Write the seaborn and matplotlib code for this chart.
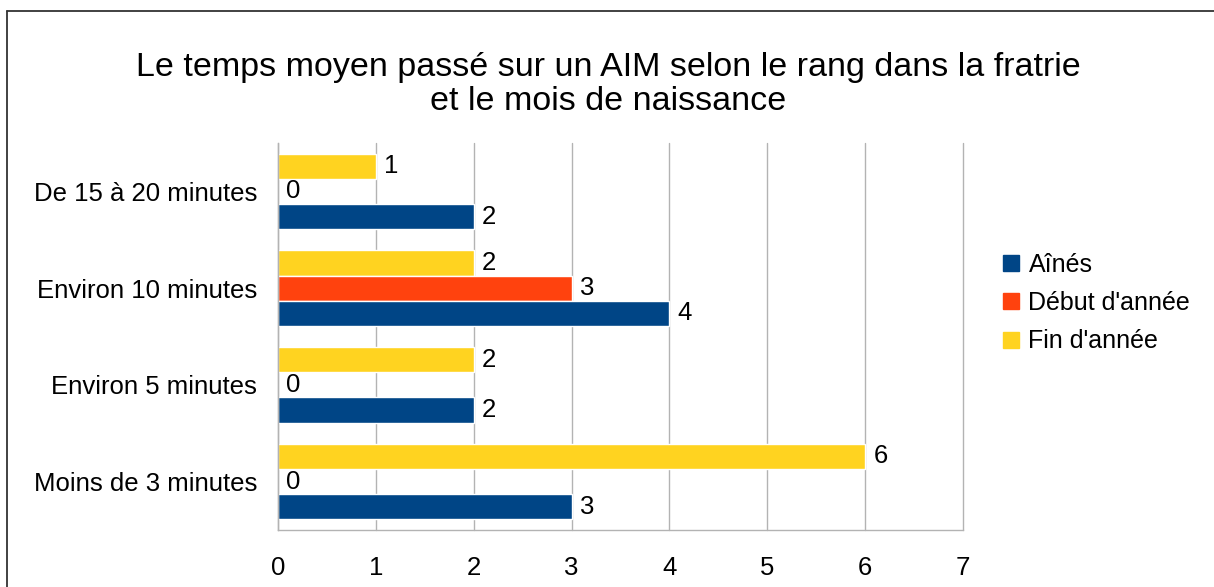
import matplotlib
matplotlib.use("Agg")
import matplotlib.pyplot as plt
from matplotlib.lines import Line2D
import pandas as pd
import seaborn as sns

# données
categories = ["De 15 à 20 minutes", "Environ 10 minutes", "Environ 5 minutes", "Moins de 3 minutes"]
series = ["Aînés", "Début d'année", "Fin d'année"]
aines = [2, 4, 2, 3]
debut = [0, 3, 0, 0]
fin = [1, 2, 2, 6]
couleurs = {"Aînés": "#004586", "Début d'année": "#ff420e", "Fin d'année": "#ffd320"}

df = pd.DataFrame({
    "cat": categories * 3,
    "serie": ["Aînés"] * 4 + ["Début d'année"] * 4 + ["Fin d'année"] * 4,
    "val": aines + debut + fin,
})

sns.set_style("white")
plt.rcParams["font.family"] = ["Liberation Sans", "DejaVu Sans"]
plt.rcParams["text.color"] = "black"
plt.rcParams["xtick.color"] = "black"
plt.rcParams["ytick.color"] = "black"

fig = plt.figure(figsize=(12.14, 5.87), dpi=100)
ax = fig.add_axes([278 / 1214, 1 - 530 / 587, (963 - 278) / 1214, (530 - 143) / 587])

# ordre de dessin : Fin en haut, Aînés en bas dans chaque groupe
sns.barplot(data=df, x="val", y="cat", hue="serie", order=categories,
            hue_order=["Fin d'année", "Début d'année", "Aînés"],
            palette=couleurs, orient="h", width=0.78, saturation=1,
            ax=ax, legend=False)

for c in ax.containers:
    ax.bar_label(c, labels=[str(int(v)) for v in c.datavalues], padding=6, fontsize=18.5)

ax.set_xlim(0, 7)
ax.set_ylim(3.5, -0.5)
ax.set_xticks(range(8))
ax.set_xlabel("")
ax.set_ylabel("")
ax.grid(axis="x", color="#b3b3b3", linewidth=1)
for g in ax.get_xgridlines():
    g.set_clip_on(False)
ax.set_axisbelow(True)
for s in ["top", "right"]:
    ax.spines[s].set_visible(False)
for s in ["left", "bottom"]:
    ax.spines[s].set_color("#b3b3b3")
    ax.spines[s].set_linewidth(1)

ax.tick_params(axis="x", length=5, color="#b3b3b3", labelcolor="black", labelsize=18.5, pad=14)
ax.tick_params(axis="y", which="major", length=0, labelcolor="black", labelsize=18.5, pad=15)
ax.set_yticks([-0.5, 0.5, 1.5, 2.5, 3.5], minor=True)
ax.tick_params(axis="y", which="minor", length=13, color="#b3b3b3")

fig.suptitle("Le temps moyen passé sur un AIM selon le rang dans la fratrie\net le mois de naissance",
             x=608 / 1214, y=1 - 52 / 587, fontsize=24.5, linespacing=1.12, color="black")

handles = [Line2D([], [], marker="s", linestyle="", markersize=12, color=couleurs[s]) for s in series]
fig.legend(handles, series, loc="center left", bbox_to_anchor=(976 / 1214, 1 - 303 / 587),
           frameon=False, fontsize=18, handletextpad=0.2, labelspacing=0.58, handlelength=1)

# cadre du graphique (haut et gauche)
fig.add_artist(Line2D([7 / 1214, 7 / 1214], [0, 1 - 11 / 587], transform=fig.transFigure, color="#333333", linewidth=1.3))
fig.add_artist(Line2D([7 / 1214, 1], [1 - 11 / 587, 1 - 11 / 587], transform=fig.transFigure, color="#333333", linewidth=1.3))

fig.savefig("out.png", dpi=100)
